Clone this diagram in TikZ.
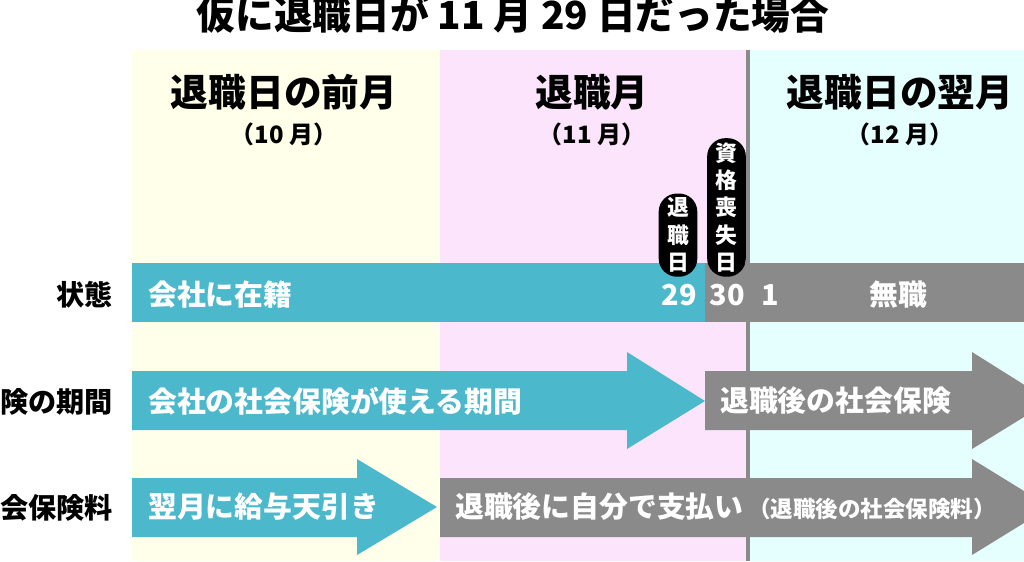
\documentclass[tikz,border=0pt]{standalone}
\usepackage{fontspec}
\setmainfont{Noto Sans CJK JP}
\usetikzlibrary{positioning}
\definecolor{barteal}{HTML}{4BB8CC}
\definecolor{bargrey}{HTML}{8A8A8A}
\definecolor{bgyellow}{HTML}{FFFFEA}
\definecolor{bgpink}{HTML}{FCE5FC}
\definecolor{bgcyan}{HTML}{E5FFFF}
\tikzset{%
    % Specifications for style of nodes:
    base/.style = {inner sep=0pt, font=\bfseries},
    title/.style = {base, font=\fontsize{27.5}{31}\selectfont\bfseries},
    monthhead/.style = {base, font=\fontsize{26.8}{30}\selectfont\bfseries},
    monthsub/.style = {base, font=\fontsize{17}{20}\selectfont\bfseries},
    rowlabel/.style = {base, anchor=east, font=\fontsize{20}{24}\selectfont\bfseries},
    bartext/.style = {base, anchor=west, text=white, font=\fontsize{20.5}{24}\selectfont\bfseries},
    daynum/.style = {base, text=white, font=\fontsize{20.5}{24}\selectfont\bfseries},
    smalltext/.style = {base, text=white, font=\fontsize{16}{19}\selectfont\bfseries},
    pill/.style = {
        fill=black, text=white, rounded corners=13pt, align=center,
        inner xsep=2pt, inner ysep=3pt, minimum width=27.5pt, anchor=south,
        font=\fontsize{15.5}{19.5}\selectfont\bfseries
    }
}
\begin{document}
\begin{tikzpicture}[x=0.025cm, y=-0.025cm]
    \clip (0,0) rectangle (1024,561);
    \fill[white] (0,0) rectangle (1024,561);
    % month columns
    \fill[bgyellow] (132,50) rectangle (440,561);
    \fill[bgpink] (440,50) rectangle (746,561);
    \fill[bgcyan] (750,50) rectangle (1024,561);
    \fill[bargrey] (746,50) rectangle (750,561);

    \node[title] (Title) at (513,14) {仮に退職日が 11 月 29 日だった場合};
    \node[monthhead] (H1) at (284,92) {退職日の前月};
    \node[monthhead] (H2) at (592,92) {退職月};
    \node[monthhead] (H3) at (900,92) {退職日の翌月};
    \node[monthsub, below=9pt of H1] (S1) {（10 月）};
    \node[monthsub, below=9pt of H2] (S2) {（11 月）};
    \node[monthsub, below=9pt of H3] (S3) {（12 月）};

    % row 1
    \fill[barteal] (132,263) rectangle (705,322);
    \fill[bargrey] (705,263) rectangle (1024,322);
    \node[pill] (P1) at (678,277) {退\\職\\日};
    \node[pill] (P2) at (726.5,277) {資\\格\\喪\\失\\日};
    % row 2
    \fill[barteal] (132,371) -- (627,371) -- (627,352) -- (705,401) -- (627,449) -- (627,430) -- (132,430) -- cycle;
    \fill[bargrey] (705,371) -- (972,371) -- (972,352) -- (1050,401) -- (972,449) -- (972,430) -- (705,430) -- cycle;
    % row 3
    \fill[barteal] (132,478) -- (357,478) -- (357,459) -- (437,507) -- (357,555) -- (357,537) -- (132,537) -- cycle;
    \fill[bargrey] (440,478) -- (972,478) -- (972,459) -- (1050,507) -- (972,555) -- (972,537) -- (440,537) -- cycle;

    \node[rowlabel] (L1) at (113,295) {状態};
    \node[rowlabel] (L2) at (113,402) {険の期間};
    \node[rowlabel] (L3) at (113,508) {会保険料};

    \node[bartext] (B1) at (148,295) {会社に在籍};
    \node[daynum, anchor=east] (D29) at (697,295) {29};
    \node[daynum] (D30) at (727,295) {30};
    \node[daynum] (D1) at (770,295) {1};
    \node[daynum] (B2) at (898,295) {無職};

    \node[bartext] (B3) at (148,401) {会社の社会保険が使える期間};
    \node[bartext] (B4) at (720,401) {退職後の社会保険};

    \node[bartext] (B5) at (148,507) {翌月に給与天引き};
    \node[bartext] (B6) at (455,507) {退職後に自分で支払い};
    \node[smalltext, right=3pt of B6.base east, anchor=base west] (B7) {（退職後の社会保険料）};
\end{tikzpicture}
\end{document}
